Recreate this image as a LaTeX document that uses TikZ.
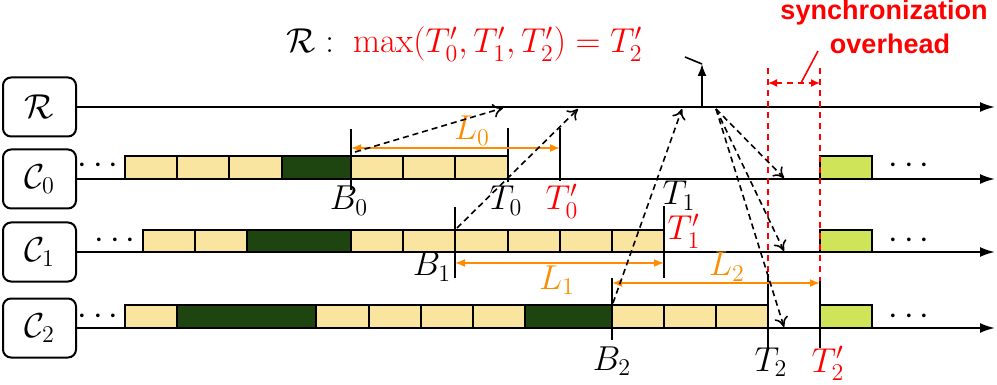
\documentclass[tikz,border=0pt]{standalone}
\usepackage{fontspec}
\newfontfamily\sansbold{Liberation Sans}
\usetikzlibrary{arrows.meta}
\definecolor{barlight}{RGB}{249,228,160}
\definecolor{bardark}{RGB}{30,68,16}
\definecolor{bargreen}{RGB}{208,228,90}
\definecolor{orng}{RGB}{255,140,0}
\tikzset{
  rowbox/.style={draw, rounded corners=4pt, line width=1pt, minimum width=36.5pt, minimum height=29.5pt, inner sep=0pt, font=\fontsize{16.5}{19}\selectfont},
  axis/.style={line width=1pt, -{Latex[length=7.5pt,width=5pt]}},
  cell/.style={draw, line width=1pt},
  lightcell/.style={cell, fill=barlight},
  darkcell/.style={cell, fill=bardark},
  greencell/.style={cell, fill=bargreen},
  tickline/.style={line width=0.8pt},
  msg/.style={line width=0.8pt, dash pattern=on 3pt off 2pt, -{To[length=5pt,width=7pt]}},
  spanarrow/.style={orng, line width=0.8pt, {Latex[length=5pt,width=4pt]}-{Latex[length=5pt,width=4pt]}},
  lbl/.style={font=\fontsize{16.5}{19}\selectfont, inner sep=0pt, anchor=base},
  titlelbl/.style={font=\fontsize{17.5}{20}\selectfont, inner sep=0pt, anchor=base west},
  syncline/.style={red, line width=0.8pt, dash pattern=on 3pt off 2.5pt},
  dotsnode/.style={font=\fontsize{16.5}{19}\selectfont, inner sep=0pt, anchor=base},
  synctext/.style={red, font=\sansbold\bfseries\fontsize{13.5}{15}\selectfont, inner sep=0pt, anchor=base}
}
\begin{document}
\begin{tikzpicture}[x=0.5pt,y=-0.5pt]
\useasboundingbox (0,0) rectangle (997,385);

% title
\node[titlelbl] (title) at (286,53) {$\mathcal{R}:$};
\node[titlelbl, red] (titlemax) at (353,53) {$\max(T'_0,T'_1,T'_2)=T'_2$};

% sync overhead text
\node[synctext] (sync1) at (884,20) {synchronization};
\node[synctext] (sync2) at (890,54) {overhead};

% row boxes
\node[rowbox] (R) at (39.5,107) {$\mathcal{R}$};
\node[rowbox] (C0) at (39.5,179) {$\mathcal{C}_0$};
\node[rowbox] (C1) at (39.5,252) {$\mathcal{C}_1$};
\node[rowbox] (C2) at (39.5,328) {$\mathcal{C}_2$};

\coordinate (Rend) at (995,107);
\coordinate (C0end) at (995,179);
\coordinate (C1end) at (995,252);
\coordinate (C2end) at (995,328);
\draw[axis] (R.east) -- (Rend);
\draw[axis] (C0.east) -- (C0end);
\draw[axis] (C1.east) -- (C1end);
\draw[axis] (C2.east) -- (C2end);

% cells C0
\foreach \a/\b in {125/177,177/229,229/282,351/403,403/455,455/508}
  \draw[lightcell] (\a,156) rectangle (\b,179);
\draw[darkcell] (282,156) rectangle (351,179);
\draw[greencell] (820,156) rectangle (872,179);
% cells C1
\foreach \a/\b in {143/195,195/247,351/403,403/455,455/508,508/560,560/612,612/664}
  \draw[lightcell] (\a,230) rectangle (\b,252);
\draw[darkcell] (247,230) rectangle (351,252);
\draw[greencell] (820,230) rectangle (872,252);
% cells C2
\foreach \a/\b in {125/177,316/369,369/421,421/473,473/525,612/664,664/716,716/768}
  \draw[lightcell] (\a,305) rectangle (\b,328);
\draw[darkcell] (177,305) rectangle (316,328);
\draw[darkcell] (525,305) rectangle (612,328);
\draw[greencell] (820,305) rectangle (872,328);

% dots
\node[dotsnode] (d0a) at (98,174) {$\cdots$};
\node[dotsnode] (d1a) at (115,249) {$\cdots$};
\node[dotsnode] (d2a) at (98,324) {$\cdots$};
\node[dotsnode] (d0b) at (909,174) {$\cdots$};
\node[dotsnode] (d1b) at (909,249) {$\cdots$};
\node[dotsnode] (d2b) at (909,324) {$\cdots$};

% sync dashed lines
\coordinate (s1top) at (768,68);
\coordinate (s1bot) at (768,274);
\coordinate (s2top) at (820,68);
\coordinate (s2bot) at (820,281);
\draw[syncline] (s1top) -- (s1bot);
\draw[syncline] (s2top) -- (s2bot);
\coordinate (sa) at (768,83);
\coordinate (sb) at (820,83);
\draw[syncline, {Latex[length=4.5pt,width=4pt]}-{Latex[length=4.5pt,width=4pt]}] (sa) -- (sb);
\coordinate (sl1) at (818,51);
\coordinate (sl2) at (801,83);
\draw[red, line width=0.8pt] (sl1) -- (sl2);

% ticks
\coordinate (B0t) at (351,129); \coordinate (B0b) at (351,190);
\coordinate (T0t) at (508,128); \coordinate (T0b) at (508,182);
\coordinate (T0pt) at (560,128); \coordinate (T0pb) at (560,181);
\coordinate (B1t) at (455,207); \coordinate (B1b) at (455,278);
\coordinate (T1t) at (664,206); \coordinate (T1b) at (664,278);
\coordinate (B2t) at (612,278); \coordinate (B2b) at (612,340);
\coordinate (T2t) at (768,274); \coordinate (T2b) at (768,348);
\coordinate (T2pt) at (820,281); \coordinate (T2pb) at (820,348);
\foreach \p in {B0,T0,T0p,B1,T1,B2,T2,T2p}
  \draw[tickline] (\p t) -- (\p b);

% spans
\coordinate (L0a) at (351,148); \coordinate (L0b) at (560,148);
\coordinate (L1a) at (455,263); \coordinate (L1b) at (664,263);
\coordinate (L2a) at (612,283); \coordinate (L2b) at (820,283);
\draw[spanarrow] (L0a) -- (L0b);
\draw[spanarrow] (L1a) -- (L1b);
\draw[spanarrow] (L2a) -- (L2b);
\node[lbl, orng] (L0) at (472,140) {$L_0$};
\node[lbl, orng] (L1) at (557,289) {$L_1$};
\node[lbl, orng] (L2) at (727,276) {$L_2$};

% labels
\node[lbl] (B0) at (349,210) {$B_0$};
\node[lbl] (T0) at (506,210) {$T_0$};
\node[lbl, red] (T0p) at (562,210) {$T'_0$};
\node[lbl] (T1) at (679,205) {$T_1$};
\node[lbl, red] (T1p) at (684,240) {$T'_1$};
\node[lbl] (B1) at (432,276) {$B_1$};
\node[lbl] (B2) at (612,370) {$B_2$};
\node[lbl] (T2) at (771,371) {$T_2$};
\node[lbl, red] (T2p) at (828,372) {$T'_2$};

% up arrow at R
\coordinate (up0) at (702,107);
\coordinate (up1) at (702,64);
\coordinate (up2) at (685,57);
\draw[line width=0.8pt, -{Latex[length=6pt,width=4.5pt]}] (up0) -- (up1);
\draw[line width=0.8pt] (up1) -- (up2);

% message arrows to R
\coordinate (m0s) at (355,152); \coordinate (m0e) at (503,108);
\coordinate (m1s) at (457,228); \coordinate (m1e) at (578,109);
\coordinate (m2s) at (613,303); \coordinate (m2e) at (682,109);
\draw[msg] (m0s) -- (m0e);
\draw[msg] (m1s) -- (m1e);
\draw[msg] (m2s) -- (m2e);
% broadcast from R
\coordinate (rs) at (716,109);
\coordinate (r0) at (784,178);
\coordinate (r1) at (784,251);
\coordinate (r2) at (784,327);
\draw[msg] (rs) -- (r0);
\draw[msg] (rs) -- (r1);
\draw[msg] (rs) -- (r2);
\end{tikzpicture}
\end{document}
